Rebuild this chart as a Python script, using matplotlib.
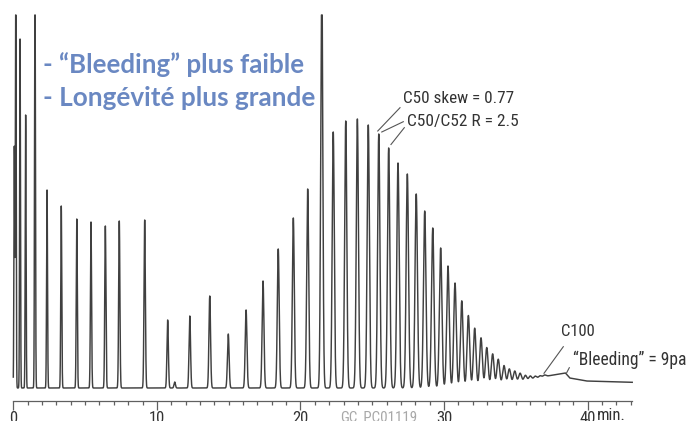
import numpy as np
import matplotlib
matplotlib.use("Agg")
import matplotlib.pyplot as plt
from matplotlib import font_manager

# ---------------- data ----------------
# retention time (min) and peak height (signal units, 1 unit ~ 1 px)
peak_times = [0.07, 0.17, 0.47, 0.86, 1.51, 2.35, 3.34, 4.42, 5.41, 6.41,
              7.38, 9.15, 10.75, 11.24, 12.29, 13.68, 14.97, 16.21, 17.39,
              18.45, 19.50, 20.50, 21.48, 22.28, 23.15, 23.96, 24.72, 25.45,
              26.14, 26.79, 27.44, 28.06, 28.65, 29.21, 29.76, 30.27, 30.76,
              31.23, 31.69, 32.13, 32.57, 32.97, 33.38, 33.77, 34.17, 34.54,
              34.92, 35.29, 35.66, 36.00, 36.34, 36.68, 37.00]
peak_heights = [241, 420, 349, 273, 420, 198, 182, 169, 166, 162,
                167, 168, 68, 6, 72, 92, 54, 78, 107,
                139, 170, 199, 420, 256, 267, 269, 263, 254,
                240, 225, 214, 194, 177, 160, 140, 122, 105,
                87, 72, 59, 49, 39, 32, 26, 19, 15,
                12, 9, 6, 4.5, 3, 2, 1.5]
# column bleed / baseline drift
bleed_times = [0, 31, 33, 34.5, 36, 37, 38.0, 38.45, 38.75, 39.9, 43.1]
bleed_levels = [0, 0, 1.5, 4, 7.5, 11.5, 14.0, 15.0, 10.0, 7.0, 5.7]

x_major = [0, 10, 20, 30, 40]
x_major_labels = ["0", "10", "20", "30", "40"]
x_minor = list(range(0, 44))
x_end = 43.1

blue_lines = ["- \u201cBleeding\u201d plus faible", "- Longévité plus grande"]
ann_skew = "C50 skew = 0.77"
ann_res = "C50/C52 R = 2.5"
ann_c100 = "C100"
ann_bleed = "\u201cBleeding\u201d = 9pa"
ref_code = "GC_PC01119"
unit_label = "min."

# ---------------- layout ----------------
W, H = 692, 421
PX_PER_MIN = 14.36
X0_PX = 13.3          # pixel of t = 0
BASE_PX = 388.0       # pixel of zero signal
TOP_PX = 15.0         # clipping level of the trace

names = {f.name for f in font_manager.fontManager.ttflist}
NARROW = "Liberation Sans"
for cand in ["Liberation Sans Narrow", "Roboto Condensed", "Open Sans Condensed",
             "Noto Sans Condensed", "DejaVu Sans Condensed"]:
    if cand in names:
        NARROW = cand
        break
BOLD = "Lato" if "Lato" in names else "DejaVu Sans"

fig = plt.figure(figsize=(W / 100, H / 100), dpi=100)
ax = fig.add_axes([0, 0, 1, 1])
ax.set_xlim(-X0_PX / PX_PER_MIN, (W - X0_PX) / PX_PER_MIN)
ax.set_ylim(BASE_PX - H, BASE_PX)


def px(x, y):
    """pixel position -> data coordinates"""
    return (x - X0_PX) / PX_PER_MIN, BASE_PX - y


# ---------------- trace ----------------
t = np.linspace(0, x_end, 40000)
sig = np.interp(t, bleed_times, bleed_levels)
for tp, hp in zip(peak_times, peak_heights):
    s = 0.028 + 0.002 * tp
    sig = sig + hp * np.exp(-0.5 * ((t - tp) / s) ** 2)
sig = np.minimum(sig, BASE_PX - TOP_PX)
ax.plot(t, sig, color="#404040", lw=1.05)

# ---------------- x axis ----------------
for side in ["left", "right", "top"]:
    ax.spines[side].set_visible(False)
ax.yaxis.set_visible(False)
ax.spines["bottom"].set_position(("data", BASE_PX - 400.7))
ax.spines["bottom"].set_bounds(0, x_end)
ax.spines["bottom"].set_color("#606060")
ax.spines["bottom"].set_linewidth(0.9)
ax.set_xticks(x_major)
ax.set_xticklabels(x_major_labels, fontfamily=NARROW, fontsize=12, color="#333333")
ax.set_xticks(x_minor, minor=True)
ax.tick_params(axis="x", which="major", direction="out", length=6.5, width=0.9,
               color="#606060", pad=1)
ax.tick_params(axis="x", which="minor", direction="out", length=2.7, width=0.9,
               color="#606060")
ax.text(*px(596.5, 408.3), unit_label, fontfamily=NARROW, fontsize=12,
        color="#333333", ha="left", va="top")
gc = ax.text(*px(340, 411), ref_code, fontfamily=NARROW, fontsize=10,
             color="#a8a8a8", ha="left", va="top")

# ---------------- annotations ----------------
i50 = peak_times.index(25.45)
i52 = peak_times.index(26.14)
t50, h50 = peak_times[i50], peak_heights[i50]
t52, h52 = peak_times[i52], peak_heights[i52]

tc = "#333333"
lc = "#555555"
f_ann = dict(fontfamily=NARROW, fontsize=12, color=tc, ha="left", va="baseline")
a1 = ax.text(*px(402.7, 102.7), ann_skew, **f_ann)
a2 = ax.text(*px(407.3, 126.0), ann_res, **f_ann)
a3 = ax.text(*px(561.0, 336.5), ann_c100, **f_ann)
a4 = ax.text(*px(573.3, 365.3), ann_bleed, **f_ann)

d = 1 / PX_PER_MIN
ax.plot([t50 - 1 * d, px(400, 107.7)[0]], [h50 + 3, px(400, 107.7)[1]], color=lc, lw=0.8)
ax.plot([t50 + 3 * d, px(403.3, 121.7)[0]], [h50 + 2, px(403.3, 121.7)[1]], color=lc, lw=0.8)
ax.plot([t52 + 2.3 * d, px(404.3, 127.7)[0]], [h52 + 3.5, px(404.3, 127.7)[1]], color=lc, lw=0.8)
ax.plot([px(544, 373.3)[0], px(563.3, 346.7)[0]], [px(544, 373.3)[1], px(563.3, 346.7)[1]],
        color=lc, lw=0.8)
ax.plot([px(566.7, 372.7)[0], px(569.3, 367.7)[0]], [px(566.7, 372.7)[1], px(569.3, 367.7)[1]],
        color=lc, lw=0.8)

# ---------------- blue statements ----------------
blue = "#6a88c2"
b1 = fig.text(42.7 / W, 1 - 72.7 / H, blue_lines[0], fontfamily=BOLD, fontweight="bold",
              fontsize=17, color=blue, ha="left", va="baseline")
b2 = fig.text(42.7 / W, 1 - 106.0 / H, blue_lines[1], fontfamily=BOLD, fontweight="bold",
              fontsize=17, color=blue, ha="left", va="baseline")

fig.canvas.draw()
r = fig.canvas.get_renderer()
for txt, target in [(b1, 261.0), (b2, 272.0), (gc, 77.0),
                    (a1, 111.0), (a2, 111.0), (a4, 114.0)]:
    w = txt.get_window_extent(r).width
    txt.set_fontsize(txt.get_fontsize() * target / w)

fig.savefig("out.png", dpi=100)
